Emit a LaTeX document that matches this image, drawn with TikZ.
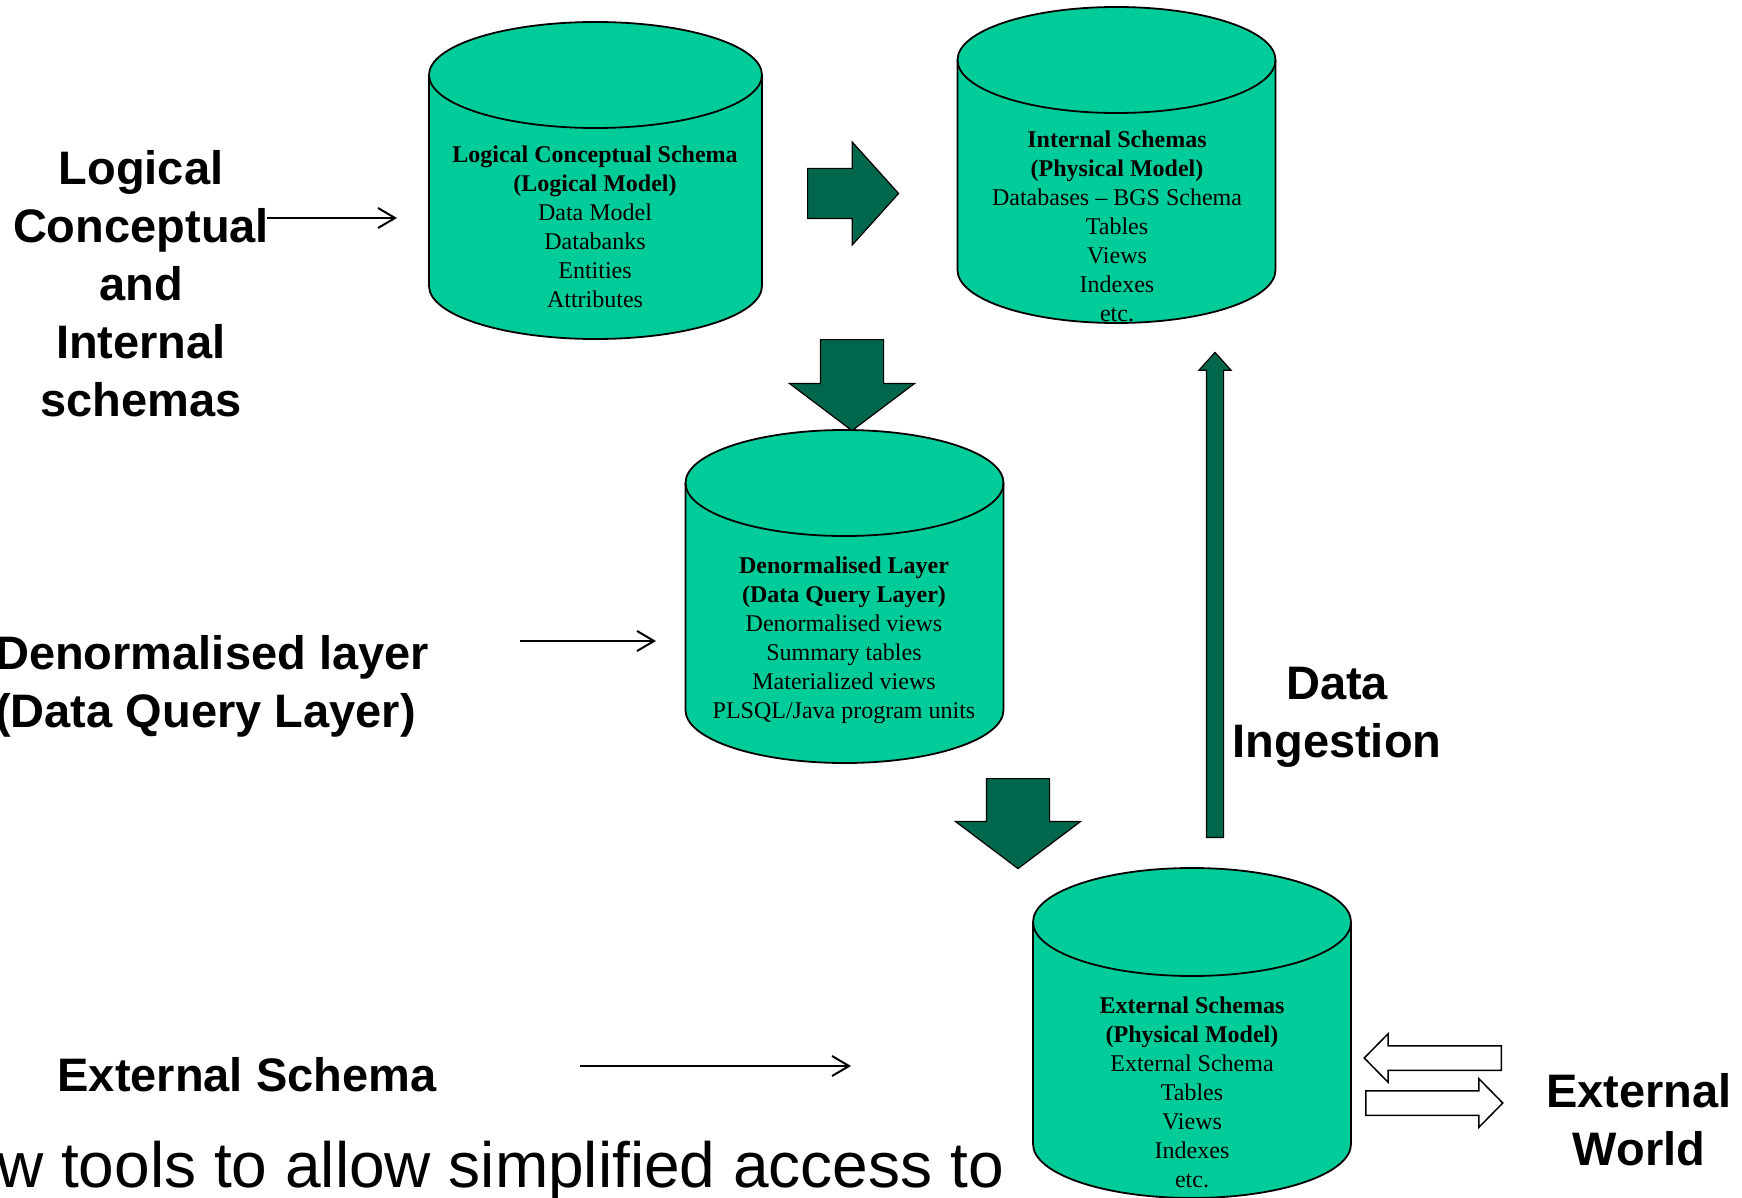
\documentclass[tikz,border=0pt]{standalone}
\usepackage{fontspec}
\setmainfont{Liberation Serif}
\setsansfont{Liberation Sans}
\usetikzlibrary{shapes.arrows}
\usetikzlibrary{arrows.meta}

\definecolor{dbgreen}{RGB}{0,204,153}
\definecolor{arrowgreen}{RGB}{0,102,76}

% database drum round a named box: node, x radius, y radius
\newcommand{\dbshape}[3]{%
  \filldraw[dbline] ([yshift=-#3]#1.north west) -- ([yshift=#3]#1.south west)
    arc[start angle=180,end angle=360,x radius=#2,y radius=#3]
    -- ([yshift=-#3]#1.north east)
    arc[start angle=0,end angle=180,x radius=#2,y radius=#3] -- cycle;
  \draw[dbline,fill=none] ([yshift=-#3]#1.north west)
    arc[start angle=180,end angle=360,x radius=#2,y radius=#3];
}

\begin{document}
\begin{tikzpicture}[x=1pt,y=-1pt,
  dbbox/.style={inner sep=0pt,outer sep=0pt,minimum width=318pt},
  dbline/.style={draw=black,line width=1.8pt,fill=dbgreen},
  dbtext/.style={align=center,inner sep=0pt,font=\fontsize{24}{29}\selectfont},
  fatarrow/.style={single arrow,draw=black,line width=1.2pt,fill=arrowgreen,inner sep=0pt,anchor=tail},
  openarrow/.style={single arrow,draw=black,line width=1.5pt,fill=white,inner sep=0pt,anchor=tail,
    minimum height=137pt,minimum width=47pt,inner ysep=11.5pt,single arrow head extend=12pt,
    single arrow tip angle=91},
  sidetext/.style={align=center,inner sep=0pt,font=\sffamily\bfseries\fontsize{47}{58}\selectfont},
  pointer/.style={line width=2pt,-{Straight Barb[length=17pt,width=20pt,line width=2pt]}}
]
\useasboundingbox (0,0) rectangle (1742,1198);

% databases
\node[dbbox,minimum width=333pt,minimum height=317pt] (lcs) at (595.5,180.5) {};
\node[dbbox,minimum height=316pt] (ist) at (1116.5,165) {};
\node[dbbox,minimum height=333pt] (dql) at (844.5,596.5) {};
\node[dbbox,minimum height=330pt] (ext) at (1192,1033) {};
\dbshape{lcs}{166.5pt}{53pt}
\dbshape{ist}{159pt}{53pt}
\dbshape{dql}{159pt}{53pt}
\dbshape{ext}{159pt}{54pt}

\node[dbtext] (lcstext) at (595,227) {\textbf{Logical Conceptual Schema}\\\textbf{(Logical Model)}\\
  Data Model\\Databanks\\Entities\\Attributes};
\node[dbtext] (isttext) at (1117,226) {\textbf{Internal Schemas}\\\textbf{(Physical Model)}\\
  Databases -- BGS Schema\\Tables\\Views\\Indexes\\etc.};
\node[dbtext] (dqltext) at (844,640) {\textbf{Denormalised Layer}\\\textbf{(Data Query Layer)}\\
  Denormalised views\\Summary tables\\Materialized views\\PLSQL/Java program units};
\node[dbtext] (exttext) at (1192,1092) {\textbf{External Schemas}\\\textbf{(Physical Model)}\\
  External Schema\\Tables\\Views\\Indexes\\etc.};

% block arrows between the databases
\node[fatarrow,minimum height=91pt,minimum width=102pt,inner ysep=24.5pt,
  single arrow head extend=26.5pt,single arrow tip angle=96] (lcs2ist) at (807,193.5) {};
\node[fatarrow,rotate=-90,minimum height=91pt,minimum width=124pt,inner ysep=31pt,
  single arrow head extend=31pt,single arrow tip angle=106] (lcs2dql) at (852,339) {};
\node[fatarrow,rotate=-90,minimum height=90pt,minimum width=124pt,inner ysep=31pt,
  single arrow head extend=31pt,single arrow tip angle=106] (dql2ext) at (1018,778) {};
\node[fatarrow,rotate=90,minimum height=485pt,minimum width=31pt,inner ysep=8pt,
  single arrow head extend=7.5pt,single arrow tip angle=84] (ext2ist) at (1215,838) {};
\node[openarrow,rotate=180] (world2ext) at (1502,1058) {};
\node[openarrow] (ext2world) at (1365,1103) {};

% labels
\node[sidetext] (lcslabel) at (141,284) {Logical\\Conceptual\\and\\Internal\\schemas};
\node[sidetext,align=left,anchor=west] (dqllabel) at (-5,686) {Denormalised layer\\(Data Query Layer)};
\node[sidetext] (extlabel) at (247,1075) {External Schema};
\node[sidetext] (ingest) at (1337,717) {Data\\Ingestion};
\node[sidetext] (world) at (1639,1120) {External\\World};
\node[anchor=base west,inner sep=0pt,font=\sffamily\fontsize{64}{77}\selectfont] (tools)
  at (-3,1187) {w tools to allow simplified access to};

% pointers
\coordinate (p1) at (267,218);
\coordinate (q1) at (397,218);
\coordinate (p2) at (520,641);
\coordinate (q2) at (656,641);
\coordinate (p3) at (580,1066);
\coordinate (q3) at (851,1066);
\draw[pointer] (p1) -- (q1);
\draw[pointer] (p2) -- (q2);
\draw[pointer] (p3) -- (q3);
\end{tikzpicture}
\end{document}
